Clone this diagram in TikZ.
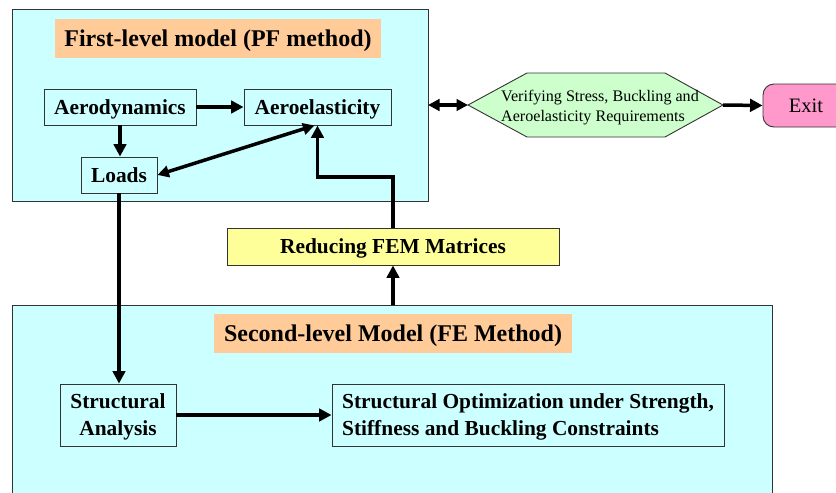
\documentclass[tikz,border=0pt]{standalone}
\usepackage{fontspec}
\setmainfont{Liberation Serif}
\usetikzlibrary{arrows.meta}
\definecolor{cyanbg}{HTML}{CCFFFF}
\definecolor{orangebg}{HTML}{FFCC99}
\definecolor{yellowbg}{HTML}{FFFF99}
\definecolor{greenbg}{HTML}{CCFFCC}
\definecolor{pinkbg}{HTML}{FF99CC}
\definecolor{edge}{HTML}{333333}
\tikzset{
  bigbox/.style={draw=edge, line width=0.9pt, fill=cyanbg, inner sep=0pt},
  box/.style={draw=edge, line width=0.9pt, fill=cyanbg, inner sep=0pt, text depth=0pt,
    font=\bfseries\fontsize{21.4}{27}\selectfont},
  titlebox/.style={fill=orangebg, inner sep=0pt, text depth=0pt,
    font=\bfseries\fontsize{24}{28}\selectfont},
  arr/.style={line width=3.5pt, -{Triangle[length=12.5pt,width=12.5pt]}},
  darr/.style={line width=3.5pt, {Triangle[length=11.5pt,width=11.5pt]}-{Triangle[length=11.5pt,width=11.5pt]}},
}
\begin{document}
\begin{tikzpicture}[x=1pt,y=-1pt]
\useasboundingbox (0,0) rectangle (836,493);
\clip (0,0) rectangle (836,493);

% big containers
\node[bigbox, minimum width=416pt, minimum height=192pt] (top) at (220,105) {};
\node[bigbox, minimum width=760pt, minimum height=200pt] (bottom) at (392,405) {};

% titles
\node[titlebox, minimum width=326pt, minimum height=39pt] (title1) at (218,38.5) {First-level model (PF method)};
\node[titlebox, minimum width=358pt, minimum height=39pt] (title2) at (393,333.5) {Second-level Model (FE Method)};

% inner boxes
\node[box, minimum width=152pt, minimum height=36pt] (aerod) at (120,107) {Aerodynamics};
\node[box, minimum width=147pt, minimum height=36pt] (aeroel) at (317.5,107) {Aeroelasticity};
\node[box, minimum width=76pt, minimum height=36pt] (loads) at (119,175) {Loads};
\node[box, fill=yellowbg, minimum width=332pt, minimum height=37pt] (reduce) at (393,246.5) {Reducing FEM Matrices};
\node[box, minimum width=116pt, minimum height=62pt, align=center] (sa) at (118,415) {Structural\\Analysis};
\node[box, minimum width=392pt, minimum height=62pt, align=left] (so) at (528,415)
  {Structural Optimization under Strength,\\Stiffness and Buckling Constraints};

% hexagon decision
\draw[draw=edge, line width=0.9pt, fill=greenbg]
  (468,105) -- (527,73) -- (665,73) -- (723,105) -- (665,137) -- (527,137) -- cycle;
\coordinate (hexL) at (468,105);
\coordinate (hexR) at (723,105);
\node[align=left, inner sep=0pt, text depth=0pt, font=\fontsize{16.1}{20}\selectfont] (verify) at (600,106)
  {Verifying Stress, Buckling and\\Aeroelasticity Requirements};

% exit
\node[draw=edge, line width=0.9pt, fill=pinkbg, rounded corners=11pt, minimum width=86pt, minimum height=43pt,
  inner sep=0pt, text depth=0pt, font=\fontsize{20.5}{24}\selectfont] (exit) at (806,105.5) {Exit};

% connectors
\coordinate (topE) at (428,105);
\coordinate (bend) at (393,177);
\coordinate (botN) at (393,305);
\draw[arr] (aerod.east) -- (aeroel.west);
\draw[arr] (aerod.south) -- (aerod.south |- loads.north);
\draw[darr] (loads.east) -- ([xshift=-3pt]aeroel.south);
\draw[arr] (reduce.north) -- (bend) -| (aeroel.south);
\draw[arr] (loads.south) -- (loads.south |- sa.north);
\draw[arr] (botN) -- (reduce.south);
\draw[arr] (sa.east) -- (so.west);
\draw[darr] (topE) -- (hexL);
\draw[arr] (hexR) -- (exit.west);
\end{tikzpicture}
\end{document}
